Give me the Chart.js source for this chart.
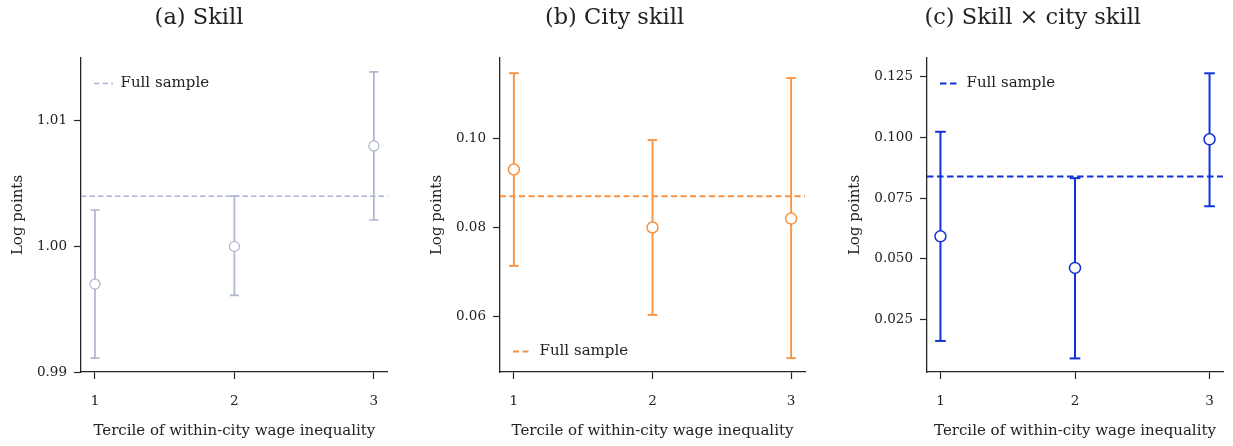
<!DOCTYPE html>
<html>
<head>
<meta charset="utf-8">
<script src="https://cdn.jsdelivr.net/npm/chart.js@4.4.1/dist/chart.umd.min.js"></script>
<style>
  html, body { margin: 0; padding: 0; background: #ffffff; }
  #wrap { position: relative; width: 1233px; height: 446px; overflow: hidden; background: #ffffff; }
  canvas { position: absolute; top: 0; }
</style>
</head>
<body>
<div id="wrap">
  <canvas id="panelA"></canvas>
  <canvas id="panelB"></canvas>
  <canvas id="panelC"></canvas>
</div>
<script>
// ---------------- data ----------------
const terciles = [1, 2, 3];
const xTickLabels = ['1', '2', '3'];
const xAxisTitle = 'Tercile of within-city wage inequality';
const yAxisTitle = 'Log points';
const legendLabel = 'Full sample';

// (a) Skill
const skillTitle = '(a) Skill';
const skillEst = [0.9970, 1.0000, 1.0080];
const skillLow = [0.9911, 0.9961, 1.0021];
const skillHigh = [1.0029, 1.0040, 1.0139];
const skillFull = 1.0040;
const skillYTicks = [0.99, 1.00, 1.01];
const skillYLabels = ['0.99', '1.00', '1.01'];

// (b) City skill
const citySkillTitle = '(b) City skill';
const citySkillEst = [0.0930, 0.0800, 0.0820];
const citySkillLow = [0.0714, 0.0604, 0.0507];
const citySkillHigh = [0.1146, 0.0996, 0.1135];
const citySkillFull = 0.0870;
const citySkillYTicks = [0.06, 0.08, 0.10];
const citySkillYLabels = ['0.06', '0.08', '0.10'];

// (c) Skill x city skill
const interTitle = '(c) Skill \u00d7 city skill';
const interEst = [0.0592, 0.0462, 0.0992];
const interLow = [0.0161, 0.0089, 0.0716];
const interHigh = [0.1023, 0.0832, 0.1264];
const interFull = 0.0839;
const interYTicks = [0.025, 0.050, 0.075, 0.100, 0.125];
const interYLabels = ['0.025', '0.050', '0.075', '0.100', '0.125'];

// ---------------- drawing ----------------
const FONT = "'DejaVu Serif', serif";
const INK = '#222222';
const SPINE = '#262626';

// keep the chartArea legend inside the plotting area (top-left or bottom-left)
const legendInArea = {
  id: 'legendInArea',
  beforeDraw(chart) {
    const l = chart.legend, a = chart.chartArea;
    if (!l) return;
    const shift = l.options.align === 'start' ? 5 : 0;
    l.top = a.top + shift; l.bottom = a.bottom; l.height = l.bottom - l.top;
    l.left = a.left; l.right = a.left + l.width;
  }
};

function buildPanel(id, p) {
  const cv = document.getElementById(id);
  cv.width = p.canvasW; cv.height = 446;
  cv.style.left = p.canvasX + 'px';
  cv.style.width = p.canvasW + 'px'; cv.style.height = '446px';

  const xMin = terciles[0] - 0.1, xMax = terciles[terciles.length - 1] + 0.1;
  const datasets = [];
  // point estimates (drawn on top)
  datasets.push({
    type: 'scatter', label: '', order: 0,
    data: terciles.map((t, i) => ({ x: t, y: p.est[i] })),
    pointStyle: 'circle', pointRadius: p.markerR, pointHoverRadius: p.markerR,
    pointBackgroundColor: '#ffffff', pointBorderColor: p.color, pointBorderWidth: p.markerW,
    showLine: false
  });
  // confidence intervals with caps
  terciles.forEach((t, i) => {
    datasets.push({
      type: 'line', label: '', order: 2,
      data: [{ x: t, y: p.low[i] }, { x: t, y: p.high[i] }],
      borderColor: p.color, borderWidth: p.lw, backgroundColor: p.color,
      pointStyle: 'line', pointRadius: p.capR, pointHoverRadius: p.capR,
      pointBorderColor: p.color, pointBorderWidth: p.lw, fill: false, tension: 0
    });
  });
  // full sample reference line
  datasets.push({
    type: 'line', label: legendLabel, order: 1,
    data: [{ x: xMin, y: p.full }, { x: xMax, y: p.full }],
    borderColor: p.color, borderWidth: p.dashW, borderDash: p.dash,
    pointRadius: 0, pointStyle: 'line', fill: false
  });

  return new Chart(cv, {
    type: 'scatter',
    data: { datasets },
    plugins: [legendInArea],
    options: {
      responsive: false, animation: false,
      events: [],
      layout: { padding: { left: p.padL, right: p.padR, top: 0, bottom: 2 } },
      plugins: {
        tooltip: { enabled: false },
        title: {
          display: true, text: p.title, color: INK,
          font: { family: FONT, size: 22.5, weight: 'normal' },
          padding: { top: 5, bottom: 26 }
        },
        legend: {
          display: true, position: 'chartArea', align: p.legendAlign,
          labels: {
            color: INK, font: { family: FONT, size: 15 },
            usePointStyle: true, pointStyle: 'line', pointStyleWidth: 19, boxHeight: 10,
            padding: 13,
            generateLabels: (chart) => Chart.defaults.plugins.legend.labels.generateLabels(chart)
              .filter(l => l.text === legendLabel)
              .map(l => Object.assign(l, { lineDash: p.dash, lineWidth: p.dashW, strokeStyle: p.color, fillStyle: p.color, pointStyle: 'line' }))
          }
        }
      },
      scales: {
        x: {
          type: 'linear', min: xMin, max: xMax,
          afterBuildTicks: (s) => { s.ticks = terciles.map(v => ({ value: v })); },
          afterFit: (s) => { s.height = 72; },
          ticks: {
            callback: (v) => xTickLabels[terciles.indexOf(v)],
            color: INK, font: { family: FONT, size: 13.5 }, padding: 14, maxRotation: 0
          },
          grid: { display: true, drawOnChartArea: false, drawTicks: true, tickLength: 7, tickColor: SPINE, tickWidth: 1.2 },
          border: { display: true, color: SPINE, width: 1.3 },
          title: { display: true, text: xAxisTitle, color: INK, font: { family: FONT, size: 15 }, padding: { top: 4, bottom: 4 } }
        },
        y: {
          type: 'linear', min: p.yMin, max: p.yMax,
          afterBuildTicks: (s) => { s.ticks = p.yTicks.map(v => ({ value: v })); },
          afterFit: (s) => { s.width = p.yW; },
          ticks: {
            callback: (v) => p.yLabels[p.yTicks.indexOf(v)],
            color: INK, font: { family: FONT, size: 13.5 }, padding: 7
          },
          grid: { display: true, drawOnChartArea: false, drawTicks: true, tickLength: 7, tickColor: SPINE, tickWidth: 1.2 },
          border: { display: true, color: SPINE, width: 1.3 },
          title: { display: true, text: yAxisTitle, color: INK, font: { family: FONT, size: 15 }, padding: { top: 4, bottom: 4 } }
        }
      }
    }
  });
}

buildPanel('panelA', {
  title: skillTitle, est: skillEst, low: skillLow, high: skillHigh, full: skillFull,
  yTicks: skillYTicks, yLabels: skillYLabels, yMin: 0.99, yMax: 1.015,
  color: '#aeb5cf', lw: 1.7, dashW: 1.5, dash: [5.5, 3], capR: 4.5, markerR: 5, markerW: 1.2,
  canvasX: -3, canvasW: 397, padL: 8, padR: 1, yW: 76, legendAlign: 'start'
});
buildPanel('panelB', {
  title: citySkillTitle, est: citySkillEst, low: citySkillLow, high: citySkillHigh, full: citySkillFull,
  yTicks: citySkillYTicks, yLabels: citySkillYLabels, yMin: 0.0476, yMax: 0.118,
  color: '#f99241', lw: 1.9, dashW: 1.9, dash: [6, 3.5], capR: 4.8, markerR: 5.5, markerW: 1.5,
  canvasX: 411, canvasW: 406, padL: 13, padR: 12, yW: 76, legendAlign: 'end'
});
buildPanel('panelC', {
  title: interTitle, est: interEst, low: interLow, high: interHigh, full: interFull,
  yTicks: interYTicks, yLabels: interYLabels, yMin: 0.0033, yMax: 0.1327,
  color: '#0f33d8', lw: 2, dashW: 2, dash: [6.5, 3.5], capR: 5.3, markerR: 5.5, markerW: 1.5,
  canvasX: 831, canvasW: 402, padL: 11.5, padR: 10, yW: 84.5, legendAlign: 'start'
});
</script>
</body>
</html>
